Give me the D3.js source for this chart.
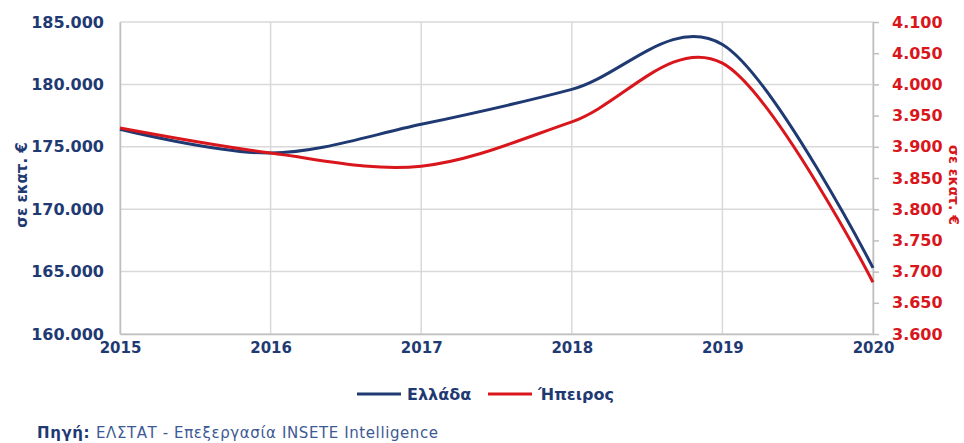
<!DOCTYPE html>
<html>
<head>
<meta charset="utf-8">
<script src="https://cdn.jsdelivr.net/npm/d3@7"></script>
<style>
  body { margin: 0; background: #fff; }
  svg { display: block; }
</style>
</head>
<body>
<svg id="chart" width="964" height="443"></svg>
<script>
// data
const years = [2015, 2016, 2017, 2018, 2019, 2020]
const greece = [176400, 174500, 176800, 179600, 183200, 165300]   // left axis
const epirus = [3930, 3890, 3869, 3940, 4034, 3683]               // right axis
const leftTicks = [160000, 165000, 170000, 175000, 180000, 185000]
const rightTicks = [3600, 3650, 3700, 3750, 3800, 3850, 3900, 3950, 4000, 4050, 4100]

const navy = "#1f3a73"
const red = "#d9161c"
const fmt = v => d3.format(",")(v).replace(/,/g, ".")
const fmtR = v => (v / 1000).toFixed(3)

let svg = d3.select("#chart")
let m = { left: 120, right: 873, top: 22, bottom: 334 }

let x = d3.scaleLinear().domain([2015, 2020]).range([m.left, m.right])
let yL = d3.scaleLinear().domain([160000, 185000]).range([m.bottom, m.top])
let yR = d3.scaleLinear().domain([3600, 4100]).range([m.bottom, m.top])

/* grid */
let grid = svg.append("g")
grid.selectAll("line.h")
    .data(leftTicks)
    .enter().append("line")
    .attr("x1", m.left).attr("x2", m.right)
    .attr("y1", d => yL(d)).attr("y2", d => yL(d))
    .style("stroke", "#d9d9d9").style("stroke-width", 1.5)
grid.selectAll("line.v")
    .data(years)
    .enter().append("line")
    .attr("x1", d => x(d)).attr("x2", d => x(d))
    .attr("y1", m.top).attr("y2", m.bottom)
    .style("stroke", "#d9d9d9").style("stroke-width", 1.5)

/* left axis */
let axL = svg.append("g")
    .attr("transform", `translate(${m.left},0)`)
    .call(d3.axisLeft(yL).tickValues(leftTicks).tickFormat(fmt).tickSize(0).tickPadding(16))
axL.select(".domain").style("stroke", "#bfbfbf").style("stroke-width", 1.5)
axL.selectAll("text")
    .style("font-family", "DejaVu Sans").style("font-weight", "bold")
    .style("font-size", "16px").style("fill", navy)

/* right axis */
let axR = svg.append("g")
    .attr("transform", `translate(${m.right},0)`)
    .call(d3.axisRight(yR).tickValues(rightTicks).tickFormat(fmtR).tickSizeInner(6).tickSizeOuter(0).tickPadding(13))
axR.select(".domain").style("stroke", "#bfbfbf").style("stroke-width", 1.5)
axR.selectAll("line").style("stroke", "#bfbfbf").style("stroke-width", 1.5)
axR.selectAll("text")
    .style("font-family", "DejaVu Sans").style("font-weight", "bold")
    .style("font-size", "16px").style("fill", red)

/* x axis */
let axX = svg.append("g")
    .attr("transform", `translate(0,${m.bottom})`)
    .call(d3.axisBottom(x).tickValues(years).tickFormat(d3.format("d")).tickSize(0).tickPadding(8))
axX.select(".domain").style("stroke", "#bfbfbf").style("stroke-width", 1.5)
axX.selectAll("text")
    .style("font-family", "DejaVu Sans").style("font-weight", "bold")
    .style("font-size", "15px").style("fill", navy)

/* axis titles */
svg.append("text")
    .text("σε εκατ. €")
    .attr("transform", "translate(27,185) rotate(-90)")
    .attr("text-anchor", "middle")
    .style("font-family", "DejaVu Sans").style("font-weight", "bold")
    .style("font-size", "15px").style("fill", navy)
svg.append("text")
    .text("σε εκατ. €")
    .attr("transform", "translate(949,185) rotate(90)")
    .attr("text-anchor", "middle")
    .style("font-family", "DejaVu Sans").style("font-weight", "bold")
    .style("font-size", "14px").style("fill", red)

/* lines */
let lineL = d3.line().x((d, i) => x(years[i])).y(d => yL(d)).curve(d3.curveCatmullRom.alpha(0))
let lineR = d3.line().x((d, i) => x(years[i])).y(d => yR(d)).curve(d3.curveCatmullRom.alpha(0))

svg.append("path")
    .attr("d", lineL(greece))
    .style("fill", "none").style("stroke", navy).style("stroke-width", 3)
svg.append("path")
    .attr("d", lineR(epirus))
    .style("fill", "none").style("stroke", red).style("stroke-width", 3)

/* legend */
let legend = [{ name: "Ελλάδα", color: navy, x: 357 }, { name: "Ήπειρος", color: red, x: 488 }]
let lg = svg.append("g").selectAll("g")
    .data(legend)
    .enter().append("g")
    .attr("transform", d => `translate(${d.x},394)`)
lg.append("line")
    .attr("x1", 0).attr("x2", 44)
    .style("stroke", d => d.color).style("stroke-width", 3)
lg.append("text")
    .text(d => d.name)
    .attr("x", 50).attr("y", 6)
    .style("font-family", "DejaVu Sans").style("font-weight", "bold")
    .style("font-size", "16px").style("fill", navy)

/* source */
let src = svg.append("text")
    .attr("x", 37).attr("y", 438)
    .style("font-family", "DejaVu Sans").style("font-size", "15px")
    .style("letter-spacing", "0.6px").style("fill", "#3d5a94")
src.append("tspan").text("Πηγή: ").style("font-weight", "bold").style("fill", navy)
src.append("tspan").text("ΕΛΣΤΑΤ - Επεξεργασία INSETE  Intelligence")
</script>
</body>
</html>
